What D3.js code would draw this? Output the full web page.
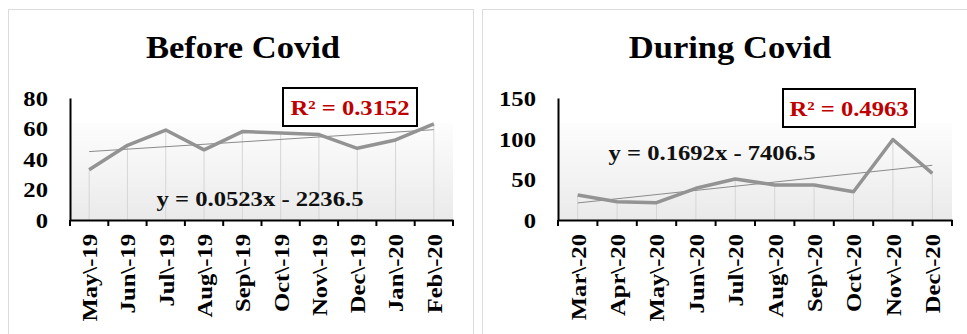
<!DOCTYPE html>
<html lang="en">
<head>
  <meta charset="UTF-8" />
  <title>Before / During Covid</title>
  <script src="https://d3js.org/d3.v7.min.js"></script>
  <style>
    body { margin: 0; background: #fff; }
    text { font-family: "Liberation Serif", "Times New Roman", serif; font-weight: bold; }
  </style>
</head>
<body>
  <div id="chart"></div>
  <script>
    // data
    const beforeMonths = ["May\\-19", "Jun\\-19", "Jul\\-19", "Aug\\-19", "Sep\\-19", "Oct\\-19", "Nov\\-19", "Dec\\-19", "Jan\\-20", "Feb\\-20"];
    const beforeValues = [33, 49, 59, 46, 58, 57, 56, 47, 52.5, 63];
    const beforeTicks = [0, 20, 40, 60, 80];

    const duringMonths = ["Mar\\-20", "Apr\\-20", "May\\-20", "Jun\\-20", "Jul\\-20", "Aug\\-20", "Sep\\-20", "Oct\\-20", "Nov\\-20", "Dec\\-20"];
    const duringValues = [30.7, 22.5, 21.3, 39, 50.4, 43, 43, 34.8, 99, 57.4];
    const duringTicks = [0, 50, 100, 150];

    const W = 967, H = 334;
    const SX = 1.12; // text looks horizontally stretched in the original

    const svg = d3.select("#chart").append("svg").attr("width", W).attr("height", H);

    const defs = svg.append("defs");
    const grad = defs.append("linearGradient").attr("id", "plotFill").attr("x1", 0).attr("y1", 0).attr("x2", 0).attr("y2", 1);
    grad.append("stop").attr("offset", "0%").attr("stop-color", "#fdfdfd");
    grad.append("stop").attr("offset", "100%").attr("stop-color", "#eaeaea");

    function drawPanel(p) {
      const g = svg.append("g");
      g.append("rect").attr("x", p.frame[0]).attr("y", p.frame[1]).attr("width", p.frame[2]).attr("height", p.frame[3])
        .attr("fill", "#fff").attr("stroke", "#dcdcdc");

      g.append("text").attr("text-anchor", "middle").style("font-size", "32px")
        .attr("transform", `translate(${p.titleX},58) scale(1.08,1)`).text(p.title);

      const x = d3.scaleBand().domain(p.months).range([p.x0, p.x1]).padding(0);
      const y = d3.scaleLinear().domain([0, d3.max(p.ticks)]).range([220, 98]);
      const bw = x.bandwidth();
      const cx = (d, i) => x(p.months[i]) + bw / 2;

      // shaded plot area
      g.append("rect").attr("x", p.x0).attr("y", 123).attr("width", p.x1 - p.x0).attr("height", 220 - 123)
        .attr("fill", "url(#plotFill)");

      // drop lines
      g.append("g").selectAll("line").data(p.values).enter().append("line")
        .attr("x1", cx).attr("x2", cx).attr("y1", d => y(d)).attr("y2", y(0))
        .attr("stroke", "#d6d6d6").attr("stroke-width", 1);

      // least-squares trendline
      const n = p.values.length;
      const mx = (n - 1) / 2, my = d3.mean(p.values);
      let sxy = 0, sxx = 0;
      p.values.forEach((v, i) => { sxy += (i - mx) * (v - my); sxx += (i - mx) * (i - mx); });
      const slope = sxy / sxx, icpt = my - slope * mx;
      g.append("line")
        .attr("x1", cx(0, 0)).attr("y1", y(icpt))
        .attr("x2", cx(0, n - 1)).attr("y2", y(icpt + slope * (n - 1)))
        .attr("stroke", "#8a8a8a").attr("stroke-width", 1);

      g.append("path").datum(p.values)
        .attr("d", d3.line().x(cx).y(d => y(d)))
        .attr("fill", "none").attr("stroke", "#939393").attr("stroke-width", 3.5).attr("stroke-linejoin", "round");

      // y axis
      const ya = g.append("g").attr("transform", `translate(${p.x0},0)`)
        .call(d3.axisLeft(y).tickValues(p.ticks).tickSize(0).tickSizeOuter(0));
      ya.select(".domain").attr("stroke", "#000").attr("stroke-width", 2);
      ya.selectAll("text").attr("x", null).attr("dy", "0.34em").attr("fill", "#000").style("font-size", "22px")
        .attr("transform", `translate(-22,0) scale(${SX},1)`);

      // x axis
      const xa = g.append("g").attr("transform", "translate(0,220)")
        .call(d3.axisBottom(x).tickSize(0).tickSizeOuter(0));
      xa.select(".domain").attr("stroke", "#000").attr("stroke-width", 2);
      xa.selectAll("text").attr("y", null).attr("dy", "0.36em").attr("text-anchor", "end")
        .attr("fill", "#000").style("font-size", "22px")
        .attr("transform", `translate(0,14) rotate(-90) scale(${SX},1)`);
      xa.append("g").selectAll("line").data(d3.range(n + 1)).enter().append("line")
        .attr("x1", i => p.x0 + i * x.step()).attr("x2", i => p.x0 + i * x.step())
        .attr("y1", 0).attr("y2", 6).attr("stroke", "#000").attr("stroke-width", 2);

      // equation
      g.append("text").attr("text-anchor", "middle").style("font-size", "22px").attr("fill", "#111")
        .attr("transform", `translate(${p.eqX},${p.eqY}) scale(${SX},1)`).text(p.equation);

      // R² box
      g.append("rect").attr("x", p.box[0]).attr("y", p.box[1]).attr("width", p.box[2]).attr("height", p.box[3])
        .attr("fill", "#fff").attr("stroke", "#000").attr("stroke-width", 2);
      g.append("text").attr("text-anchor", "middle").style("font-size", "22px").attr("fill", "#c00000")
        .attr("transform", `translate(${p.box[0] + p.box[2] / 2},${p.box[1] + p.box[3] / 2 + 8}) scale(${SX},1)`)
        .text(p.r2);
    }

    drawPanel({
      title: "Before Covid", titleX: 243, frame: [8.5, 9.5, 465, 340],
      months: beforeMonths, values: beforeValues, ticks: beforeTicks,
      x0: 70, x1: 453,
      equation: "y = 0.0523x - 2236.5", eqX: 260, eqY: 206,
      r2: "R² = 0.3152", box: [283, 88, 134, 38]
    });

    drawPanel({
      title: "During Covid", titleX: 730, frame: [482.5, 9.5, 500, 340],
      months: duringMonths, values: duringValues, ticks: duringTicks,
      x0: 558, x1: 952,
      equation: "y = 0.1692x - 7406.5", eqX: 712, eqY: 160,
      r2: "R² = 0.4963", box: [783, 89, 132, 38]
    });
  </script>
</body>
</html>
